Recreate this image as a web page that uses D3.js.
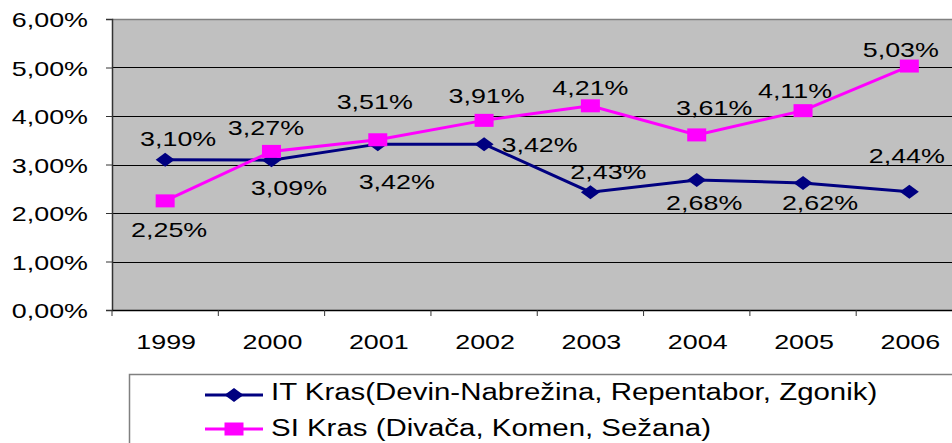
<!DOCTYPE html>
<html><head><meta charset="utf-8">
<script src="https://cdn.jsdelivr.net/npm/d3@7"></script>
<style>
html,body{margin:0;padding:0;background:#fff;}
svg{display:block;}
text{font-family:"Liberation Sans",Arial,sans-serif;fill:#000;}
</style></head>
<body>
<svg id="chart" width="952" height="443"></svg>
<script>
const years = ["1999","2000","2001","2002","2003","2004","2005","2006"];
const itValues = [3.10, 3.09, 3.42, 3.42, 2.43, 2.68, 2.62, 2.44];
const siValues = [2.25, 3.27, 3.51, 3.91, 4.21, 3.61, 4.11, 5.03];
const yTicks = [0, 1, 2, 3, 4, 5, 6];
const seriesNames = ["IT Kras(Devin-Nabrežina, Repentabor, Zgonik)", "SI Kras (Divača, Komen, Sežana)"];

// label placement offsets (layout only)
const itLabelOffsets = [[13,-14],[17.5,35],[19,45],[55.5,8],[18,-13],[7.5,30],[17,27],[-2.5,-29]];
const siLabelOffsets = [[4,36],[-5.5,-16],[-3,-31],[2.5,-17],[0,-11],[17.5,-20],[-8,-13],[-8.5,-9]];

const SX = 1.28;
const svg = d3.select("#chart");
const pLeft = 112, pTop = 19, pBottom = 310, pRight = 962.5;

const x = d3.scaleBand().domain(years).range([pLeft, pRight]).padding(0);
const y = d3.scaleLinear().domain([0, 6]).range([pBottom, pTop]);
const fmt = v => v.toFixed(2).replace(".", ",") + "%";

function stext(parent, tx, ty, str, size, anchor) {
  const g = parent.append("g").attr("transform", `translate(${tx},${ty})`);
  g.append("text").attr("transform", `scale(${SX},1)`)
    .attr("text-anchor", anchor).attr("font-size", size).text(str);
  return g;
}

// plot background
svg.append("rect").attr("x", pLeft).attr("y", pTop).attr("width", 952 - pLeft).attr("height", pBottom - pTop)
  .attr("fill", "#C0C0C0");
// top border
svg.append("line").attr("x1", pLeft).attr("x2", 952).attr("y1", pTop + 0.5).attr("y2", pTop + 0.5)
  .attr("stroke", "#808080").attr("stroke-width", 1.5);

// gridlines
svg.append("g").selectAll("line").data(yTicks.filter(t => t > 0 && t < 6)).join("line")
  .attr("x1", pLeft).attr("x2", 952)
  .attr("y1", d => Math.round(y(d)) + 0.5).attr("y2", d => Math.round(y(d)) + 0.5)
  .attr("stroke", "#000").attr("stroke-width", 1);

// y axis
const yAxis = svg.append("g").attr("transform", `translate(${pLeft},0)`)
  .call(d3.axisLeft(y).tickValues(yTicks).tickSize(6).tickFormat(""));
yAxis.select(".domain").attr("stroke", "#333").attr("stroke-width", 1.5);
yAxis.selectAll(".tick line").attr("stroke", "#333");
yTicks.forEach(t => stext(svg, 88, y(t) + 8, fmt(t), 21, "end"));

// x axis
const xAxis = svg.append("g").attr("transform", `translate(0,${pBottom})`)
  .call(d3.axisBottom(x).tickSize(0).tickFormat(""));
xAxis.select(".domain").attr("stroke", "#000").attr("stroke-width", 1.5);
const tickXs = years.map(yr => x(yr));
svg.append("g").selectAll("line").data(tickXs).join("line")
  .attr("x1", d => d).attr("x2", d => d).attr("y1", pBottom).attr("y2", pBottom + 6)
  .attr("stroke", "#333").attr("stroke-width", 1);
years.forEach(yr => stext(svg, x(yr) + x.bandwidth() / 2 + 1, 349, yr, 21, "middle"));

const cx = yr => x(yr) + x.bandwidth() / 2;
const line = d3.line().x((d, i) => cx(years[i])).y(d => y(d));

const diamond = (g, px, py) => g.append("path")
  .attr("d", `M${px - 9.5},${py}L${px},${py - 7}L${px + 9.5},${py}L${px},${py + 7}Z`).attr("fill", "#000080");
const square = (g, px, py) => g.append("rect")
  .attr("x", px - 9.5).attr("y", py - 6.5).attr("width", 19).attr("height", 13).attr("fill", "#FF00FF");

svg.append("path").datum(itValues).attr("d", line).attr("fill", "none")
  .attr("stroke", "#000080").attr("stroke-width", 3);
svg.append("path").datum(siValues).attr("d", line).attr("fill", "none")
  .attr("stroke", "#FF00FF").attr("stroke-width", 3);

const mk = svg.append("g");
itValues.forEach((v, i) => diamond(mk, cx(years[i]), y(v)));
siValues.forEach((v, i) => square(mk, cx(years[i]), y(v)));

const lb = svg.append("g");
itValues.forEach((v, i) => stext(lb, cx(years[i]) + itLabelOffsets[i][0], y(v) + itLabelOffsets[i][1], fmt(v), 21, "middle"));
siValues.forEach((v, i) => stext(lb, cx(years[i]) + siLabelOffsets[i][0], y(v) + siLabelOffsets[i][1], fmt(v), 21, "middle"));

// legend
const lg = svg.append("g");
lg.append("rect").attr("x", 129.5).attr("y", 374.5).attr("width", 900).attr("height", 200)
  .attr("fill", "#fff").attr("stroke", "#808080").attr("stroke-width", 1.5);
const legendRows = [395, 429];
seriesNames.forEach((name, i) => {
  const ly = legendRows[i];
  lg.append("line").attr("x1", 205).attr("x2", 263).attr("y1", ly).attr("y2", ly)
    .attr("stroke", i === 0 ? "#000080" : "#FF00FF").attr("stroke-width", 3);
  if (i === 0) diamond(lg, 234, ly); else square(lg, 234, ly);
  stext(lg, 271, ly + 5 + (i === 0 ? 0 : 2), name, 23, "start");
});
</script>
</body></html>
